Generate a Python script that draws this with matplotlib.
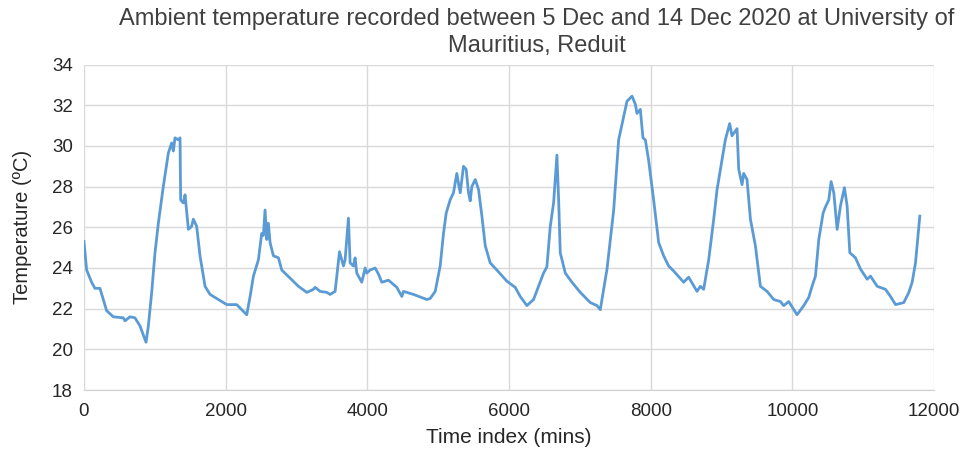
import matplotlib
matplotlib.use('Agg')
import matplotlib.pyplot as plt

# Valores (indice de tiempo en minutos, temperatura en ºC)
tiempo = [0, 38, 108, 155, 226, 320, 414, 555, 579, 650, 720, 791, 876, 909, 956,
          1003, 1050, 1120, 1191, 1238, 1262, 1285, 1332, 1356, 1365, 1403, 1427,
          1474, 1520, 1544, 1591, 1638, 1709, 1780, 1921, 2015, 2156, 2227, 2298,
          2345, 2392, 2462, 2509, 2533, 2556, 2580, 2603, 2627, 2674, 2745, 2792,
          2910, 3027, 3145, 3239, 3263, 3333, 3428, 3475, 3545, 3607, 3639, 3663,
          3686, 3733, 3757, 3804, 3827, 3851, 3921, 3969, 3992, 4039, 4110, 4157,
          4204, 4298, 4416, 4487, 4510, 4651, 4840, 4887, 4958, 5028, 5075, 5113,
          5169, 5216, 5263, 5287, 5311, 5357, 5395, 5428, 5452, 5475, 5523, 5570,
          5617, 5664, 5734, 5828, 5970, 6087, 6158, 6252, 6346, 6417, 6487, 6534,
          6582, 6629, 6676, 6700, 6723, 6794, 6888, 7006, 7147, 7242, 7288, 7383,
          7477, 7547, 7618, 7665, 7736, 7783, 7806, 7853, 7890, 7924, 7970, 8041,
          8112, 8182, 8253, 8324, 8465, 8535, 8653, 8700, 8747, 8818, 8889, 8936,
          9006, 9053, 9114, 9147, 9218, 9242, 9289, 9312, 9359, 9407, 9477, 9548,
          9642, 9736, 9830, 9877, 9948, 10065, 10160, 10230, 10277, 10325, 10372,
          10433, 10466, 10513, 10546, 10584, 10631, 10678, 10734, 10772, 10810,
          10890, 10960, 11055, 11102, 11196, 11314, 11384, 11455, 11572, 11643,
          11690, 11737, 11798]
temperatura = [25.3, 23.9, 23.3, 23.0, 23.0, 21.9, 21.6, 21.55, 21.4, 21.6, 21.55,
               21.15, 20.35, 21.15, 22.8, 24.75, 26.2, 28.0, 29.65, 30.15, 29.75,
               30.4, 30.3, 30.4, 27.35, 27.2, 27.6, 25.9, 26.05, 26.4, 26.05, 24.6,
               23.1, 22.7, 22.4, 22.2, 22.2, 21.95, 21.7, 22.6, 23.6, 24.4, 25.7,
               25.6, 26.85, 25.4, 26.2, 25.25, 24.6, 24.5, 23.9, 23.5, 23.1, 22.8,
               22.95, 23.05, 22.85, 22.8, 22.7, 22.85, 24.8, 24.4, 24.1, 24.4, 26.45,
               24.25, 24.1, 24.5, 23.75, 23.3, 24.0, 23.75, 23.9, 24.0, 23.7, 23.3,
               23.4, 23.05, 22.6, 22.85, 22.7, 22.45, 22.5, 22.85, 24.1, 25.7, 26.7,
               27.35, 27.7, 28.65, 28.15, 27.7, 29.0, 28.85, 27.7, 27.3, 28.0, 28.35,
               27.85, 26.55, 25.1, 24.25, 23.9, 23.35, 23.05, 22.6, 22.15, 22.45,
               23.1, 23.75, 24.05, 26.05, 27.2, 29.55, 27.35, 24.75, 23.75, 23.3,
               22.8, 22.3, 22.15, 21.95, 23.95, 26.85, 30.3, 31.45, 32.2, 32.45,
               32.05, 31.6, 31.8, 30.4, 30.3, 29.3, 27.35, 25.25, 24.6, 24.1, 23.85,
               23.3, 23.55, 22.85, 23.1, 22.95, 24.4, 26.4, 27.85, 29.3, 30.3, 31.1,
               30.5, 30.85, 28.85, 28.1, 28.65, 28.35, 26.4, 25.1, 23.1, 22.85, 22.45,
               22.35, 22.15, 22.35, 21.7, 22.15, 22.55, 23.1, 23.6, 25.4, 26.7, 27.0,
               27.35, 28.25, 27.7, 25.9, 27.05, 27.95, 27.05, 24.75, 24.5, 23.95,
               23.45, 23.6, 23.1, 22.95, 22.6, 22.2, 22.3, 22.8, 23.3, 24.25, 26.55]

xticks = [0, 2000, 4000, 6000, 8000, 10000, 12000]
yticks = [18, 20, 22, 24, 26, 28, 30, 32, 34]

plt.rcParams['font.family'] = ['Liberation Sans', 'DejaVu Sans']

fig = plt.figure(figsize=(9.65, 4.5), dpi=100)
ax = fig.add_axes([0.087, 0.1333, 0.881, 0.7231])

ax.plot(tiempo, temperatura, color='#5b9bd5', linewidth=2.0)

ax.set_xlim(0, 12000)
ax.set_ylim(18, 34)
ax.set_xticks(xticks)
ax.set_yticks(yticks)
ax.grid(True, color='#d9d9d9', linewidth=1)
ax.set_axisbelow(True)
for lado in ['top', 'right', 'left']:
    ax.spines[lado].set_visible(False)
ax.spines['bottom'].set_color('#d0d0d0')
ax.tick_params(axis='x', length=0, labelsize=13.5, colors='#262626', pad=9)
ax.tick_params(axis='y', length=0, labelsize=13.5, colors='#262626', pad=8)

ax.set_xlabel("Time index (mins)", fontsize=15, color='#262626', labelpad=6)
ax.set_ylabel("Temperature (ºC)", fontsize=14.5, color='#262626', labelpad=14)

# Titulo centrado un poco a la derecha del area del grafico, como en el original
fig.text(0.556, 0.982, "Ambient temperature recorded between 5 Dec and 14 Dec 2020 at University of\nMauritius, Reduit",
         fontsize=17, color='#404040', ha='center', va='top', linespacing=1.3)

fig.savefig("out.png", dpi=100)
